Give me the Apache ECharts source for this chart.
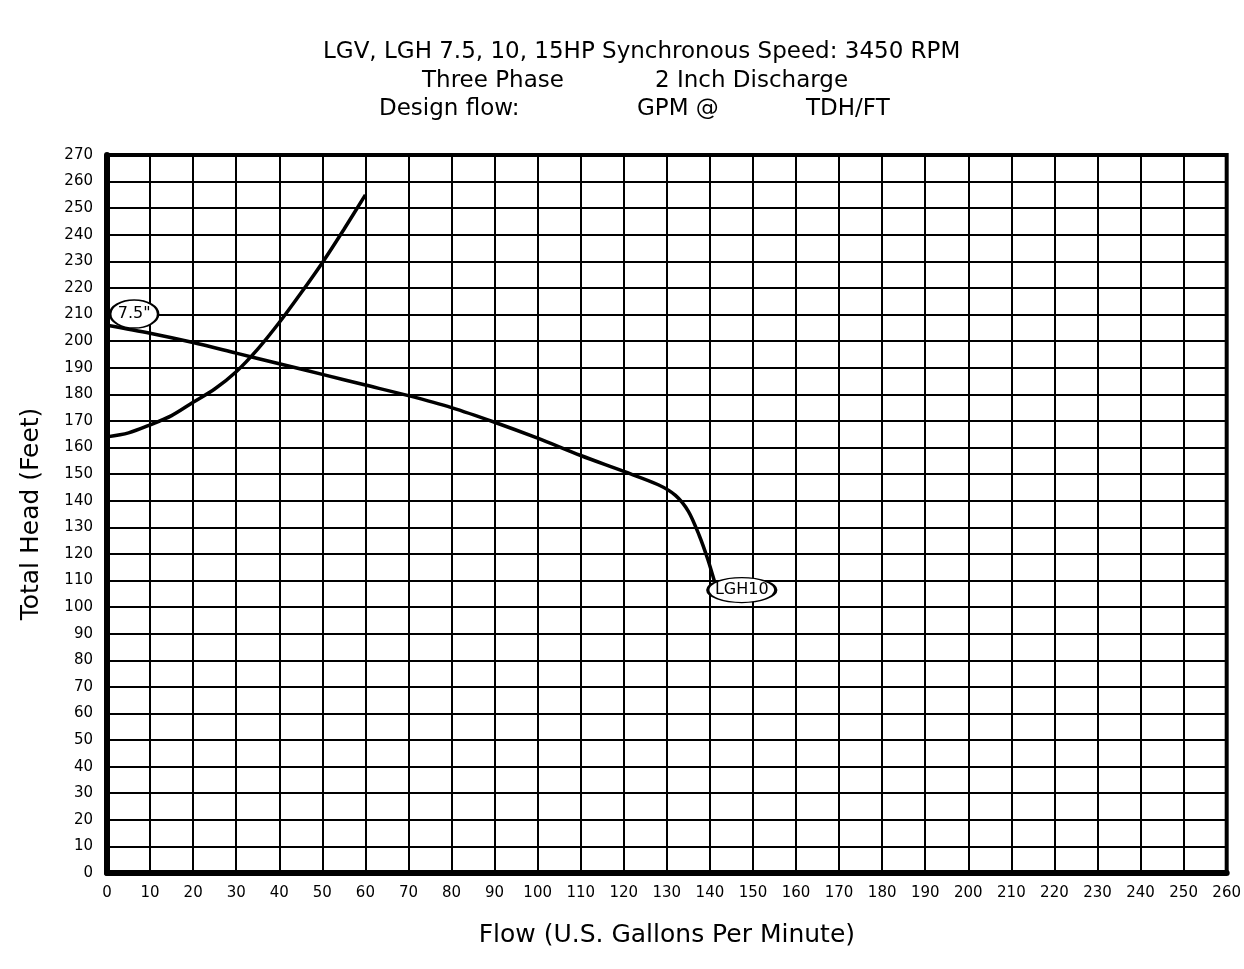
<!DOCTYPE html>
<html>
<head>
<meta charset="utf-8">
<script src="https://cdn.jsdelivr.net/npm/echarts@6/dist/echarts.min.js"></script>
<style>
  html, body { margin: 0; padding: 0; background: #fff; }
  #chart { width: 1244px; height: 969px; }
</style>
</head>
<body>
<div id="chart"></div>
<script>
// pump curve, LGH10 with 7.5" impeller
const pumpCurve = [
  [0, 206], [10, 203], [20, 199.5], [30, 195.5], [40, 191.5], [50, 187.5],
  [60, 183.5], [70, 179.5], [80, 175], [90, 169.5], [100, 163.5], [110, 157],
  [120, 151], [128, 146], [132, 142], [135, 136], [137.5, 127], [139.5, 118], [141, 110]
]
// system curve
const systemCurve = [
  [0, 164], [5, 165.5], [10, 168.5], [15, 172], [20, 177], [25, 182],
  [30, 188.5], [35, 197], [40, 207], [45, 218], [50, 229.5], [55, 242], [60, 255]
]
const curveTags = [
  { name: '7.5"', value: [6.3, 210.2], w: 48, h: 28 },
  { name: 'LGH10', value: [147.4, 106.4], w: 68, h: 25 }
]
const titleLines = [
  { text: 'LGV, LGH 7.5, 10, 15HP Synchronous Speed: 3450 RPM', left: 323, top: 41 },
  { text: 'Three Phase', left: 422, top: 70 },
  { text: '2 Inch Discharge', left: 655, top: 70 },
  { text: 'Design flow:', left: 379, top: 98 },
  { text: 'GPM @', left: 637, top: 98 },
  { text: 'TDH/FT', left: 806, top: 98 }
]

const font = 'DejaVu Sans'
const chart = echarts.init(document.getElementById('chart'))

chart.setOption({
  backgroundColor: '#fff',
  animation: false,
  title: titleLines.map(t => ({
    text: t.text,
    left: t.left,
    top: t.top,
    padding: 0,
    textStyle: { fontFamily: font, fontSize: 23, fontWeight: 'normal', color: '#000' }
  })),
  grid: {
    left: 107, right: 15, top: 155, bottom: 96,
    show: true, borderColor: '#000', borderWidth: 4
  },
  xAxis: {
    type: 'value', min: 0, max: 260, interval: 10,
    name: 'Flow (U.S. Gallons Per Minute)',
    nameLocation: 'middle', nameGap: 50,
    nameTextStyle: { fontFamily: font, fontSize: 25, color: '#000' },
    axisLine: { show: true, onZero: false, lineStyle: { color: '#000', width: 6 } },
    axisTick: { show: false },
    axisLabel: { fontFamily: font, fontSize: 15, color: '#000', margin: 13 },
    splitLine: { show: true, lineStyle: { color: '#000', width: 2 } }
  },
  yAxis: {
    type: 'value', min: 0, max: 270, interval: 10,
    name: 'Total Head (Feet)',
    nameLocation: 'middle', nameGap: 63,
    nameTextStyle: { fontFamily: font, fontSize: 25, color: '#000' },
    axisLine: { show: true, onZero: false, lineStyle: { color: '#000', width: 6 } },
    axisTick: { show: false },
    axisLabel: { fontFamily: font, fontSize: 15, color: '#000', margin: 14 },
    splitLine: { show: true, lineStyle: { color: '#000', width: 2 } }
  },
  series: [
    {
      name: 'LGH10',
      type: 'line',
      data: pumpCurve,
      smooth: 0.3,
      showSymbol: false,
      lineStyle: { color: '#000', width: 3.5 }
    },
    {
      name: 'system',
      type: 'line',
      data: systemCurve,
      smooth: 0.3,
      showSymbol: false,
      lineStyle: { color: '#000', width: 3.5 }
    },
    {
      name: 'tags',
      type: 'scatter',
      z: 5,
      data: curveTags.map(t => ({ name: t.name, value: t.value, symbolSize: [t.w, t.h] })),
      symbol: 'circle',
      itemStyle: { color: '#fff', opacity: 1, borderColor: '#000', borderWidth: 2 },
      label: {
        show: true, position: 'inside', formatter: '{b}',
        fontFamily: font, fontSize: 16, color: '#000'
      }
    }
  ]
})
</script>
</body>
</html>
